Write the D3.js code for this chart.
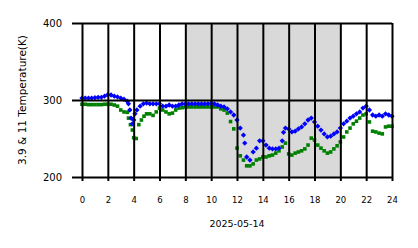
<!DOCTYPE html>
<html>
<head>
<meta charset="utf-8">
<script src="https://cdn.jsdelivr.net/npm/d3@7"></script>
<style>
body { margin: 0; background: #fff; }
text { font-family: "DejaVu Sans", sans-serif; fill: #000; }
</style>
</head>
<body>
<svg id="root"></svg>
<script>
var width = 418,
    height = 248,
    margin = {top: 23, right: 26, bottom: 71, left: 82},
    w = width - margin.left - margin.right,
    h = height - margin.top - margin.bottom;

// hour of day, brightness temperature (K)
var t39 = [[0,302.5],[0.25,302.5],[0.5,302.5],[0.75,302.5],[1,303],[1.25,303.5],[1.5,303.5],[1.75,305],
  [2,307],[2.25,306.5],[2.5,305],[2.75,304],[3,302.5],[3.25,301],[3.5,298.5],[3.6,295],[3.7,287],
  [3.8,276.5],[3.9,269],[4,274],[4.1,282],[4.25,287],[4.5,292],[4.75,295],[5,296],[5.25,295],
  [5.5,295],[5.75,295],[6,295],[6.25,292],[6.5,292],[6.75,293.5],[7,292],[7.25,292],[7.5,293.5],
  [7.75,295],[8,295],[8.25,295],[8.5,295],[8.75,295],[9,295],[9.25,295],[9.5,295],[9.75,295],
  [10,295.5],[10.25,295],[10.5,293.5],[10.75,292],[11,291],[11.25,288.5],[11.5,284.5],[11.75,280.5],
  [12,274],[12.25,263.5],[12.5,254.5],[12.6,244],[12.75,226],[13,222],[13.25,232.5],[13.5,237.5],
  [13.75,247],[14,247],[14.25,241.5],[14.5,237.5],[14.75,236.5],[15,236.5],[15.25,237.5],[15.5,247],
  [15.6,258],[15.75,263.5],[16,262.5],[16.25,258.5],[16.5,259.5],[16.75,262.5],[17,265],[17.25,269],
  [17.5,274],[17.75,276.5],[18,271.5],[18.25,266],[18.5,261],[18.75,256],[19,252],[19.25,253],
  [19.5,256],[19.75,258.5],[20,263.5],[20.25,269],[20.5,272.5],[20.75,276.5],[21,279],[21.25,282],
  [21.5,284.5],[21.75,289.5],[22,292],[22.25,287],[22.5,280.5],[22.75,279],[23,280.5],[23.25,279],
  [23.5,282],[23.75,280.5],[24,279]];

var t11 = [[0,294.5],[0.25,294.5],[0.5,294],[0.75,294],[1,294],[1.25,294],[1.5,294],[1.75,294.5],
  [2,294.5],[2.25,294.5],[2.5,293.5],[2.75,292],[3,287],[3.25,284.5],[3.5,284],[3.6,276.5],
  [3.75,268],[3.9,261],[4,251],[4.2,250],[4.4,268],[4.6,274],[4.8,279],[5,282],[5.25,282],
  [5.5,280],[5.75,284.5],[6,289.5],[6.25,287],[6.5,284.5],[6.75,282],[7,283],[7.25,287],
  [7.5,289.5],[7.75,290],[8,291],[8.25,291],[8.5,291],[8.75,291],[9,291],[9.25,291],[9.5,291],
  [9.75,291],[10,291],[10.25,291],[10.5,291],[10.75,288.5],[11,287],[11.25,283],[11.5,272],
  [11.75,262.5],[12,237.5],[12.25,227.5],[12.5,222],[12.75,214.5],[13,214.5],[13.25,217],
  [13.5,222],[13.75,223.5],[14,226],[14.25,226],[14.5,227.5],[14.75,228.5],[15,231],[15.25,234],
  [15.5,239],[15.75,244],[16,230],[16.25,228.5],[16.5,231],[16.75,232.5],[17,234],[17.25,236.5],
  [17.5,241.5],[17.75,250.5],[18,248],[18.25,241.5],[18.5,237.5],[18.75,234],[19,231],[19.25,232.5],
  [19.5,236.5],[19.75,240.5],[20,245.5],[20.25,252],[20.5,258.5],[20.75,263.5],[21,269],[21.25,272.5],
  [21.5,276.5],[21.75,280.5],[22,282],[22.25,271.5],[22.5,259.5],[22.75,258.5],[23,257],[23.25,256],
  [23.5,265],[23.75,266],[24,266]];

var xTicks = [0, 2, 4, 6, 8, 10, 12, 14, 16, 18, 20, 22, 24],
    yTicks = [200, 300, 400],
    night = [8, 20],
    dateLabel = '2025-05-14',
    yLabel = '3.9 & 11 Temperature(K)';

var svg = d3.select('#root')
    .attr('width', width)
    .attr('height', height);

var x = d3.scaleLinear().domain([0, 24]).range([0, w]),
    y = d3.scaleLinear().domain([200, 400]).range([h, 0]);

var g = svg.append('g')
    .attr('transform', 'translate(' + margin.left + ',' + margin.top + ')');

// shaded span
g.append('rect')
    .attr('x', x(night[0]))
    .attr('y', 0)
    .attr('width', x(night[1]) - x(night[0]))
    .attr('height', h)
    .attr('fill', '#d9d9d9');

// markers
g.selectAll('.p11')
    .data(t11)
    .enter()
        .append('rect')
        .attr('class', 'p11')
        .attr('x', function(d) { return x(d[0]) - 1.8; })
        .attr('y', function(d) { return y(d[1]) - 1.8; })
        .attr('width', 3.6)
        .attr('height', 3.6)
        .attr('fill', 'green');

var diamond = d3.symbol().type(d3.symbolSquare).size(14);
g.selectAll('.p39')
    .data(t39)
    .enter()
        .append('path')
        .attr('class', 'p39')
        .attr('d', diamond)
        .attr('transform', function(d) {
            return 'translate(' + x(d[0]) + ',' + y(d[1]) + ') rotate(45)';
        })
        .attr('fill', 'blue');

// grid lines on top, like the original
var gx = g.append('g')
    .call(d3.axisBottom(x).tickValues(xTicks).tickSize(h).tickFormat(''));
var gy = g.append('g')
    .call(d3.axisLeft(y).tickValues(yTicks).tickSize(-w).tickFormat(''));
[gx, gy].forEach(function(s) {
    s.select('.domain').remove();
    s.selectAll('line').attr('stroke', '#000').attr('stroke-width', 2);
});

// axes with outside ticks and labels
var ax = g.append('g')
    .attr('transform', 'translate(0,' + h + ')')
    .call(d3.axisBottom(x).tickValues(xTicks).tickSize(4).tickPadding(16).tickFormat(d3.format('d')));
ax.select('.domain').remove();
ax.selectAll('line').attr('stroke-width', 2);
ax.selectAll('text').style('font-size', '8.5px');

var ay = g.append('g')
    .call(d3.axisLeft(y).tickValues(yTicks).tickSize(10).tickPadding(10).tickFormat(d3.format('d')));
ay.select('.domain').remove();
ay.selectAll('line').attr('stroke-width', 2);
ay.selectAll('text').style('font-size', '10px');

svg.append('text')
    .attr('x', margin.left + w / 2)
    .attr('y', 227)
    .attr('text-anchor', 'middle')
    .style('font-size', '9.5px')
    .text(dateLabel);

svg.append('text')
    .attr('transform', 'translate(26,' + (margin.top + h / 2) + ') rotate(-90)')
    .attr('text-anchor', 'middle')
    .style('font-size', '10.5px')
    .text(yLabel);
</script>
</body>
</html>
